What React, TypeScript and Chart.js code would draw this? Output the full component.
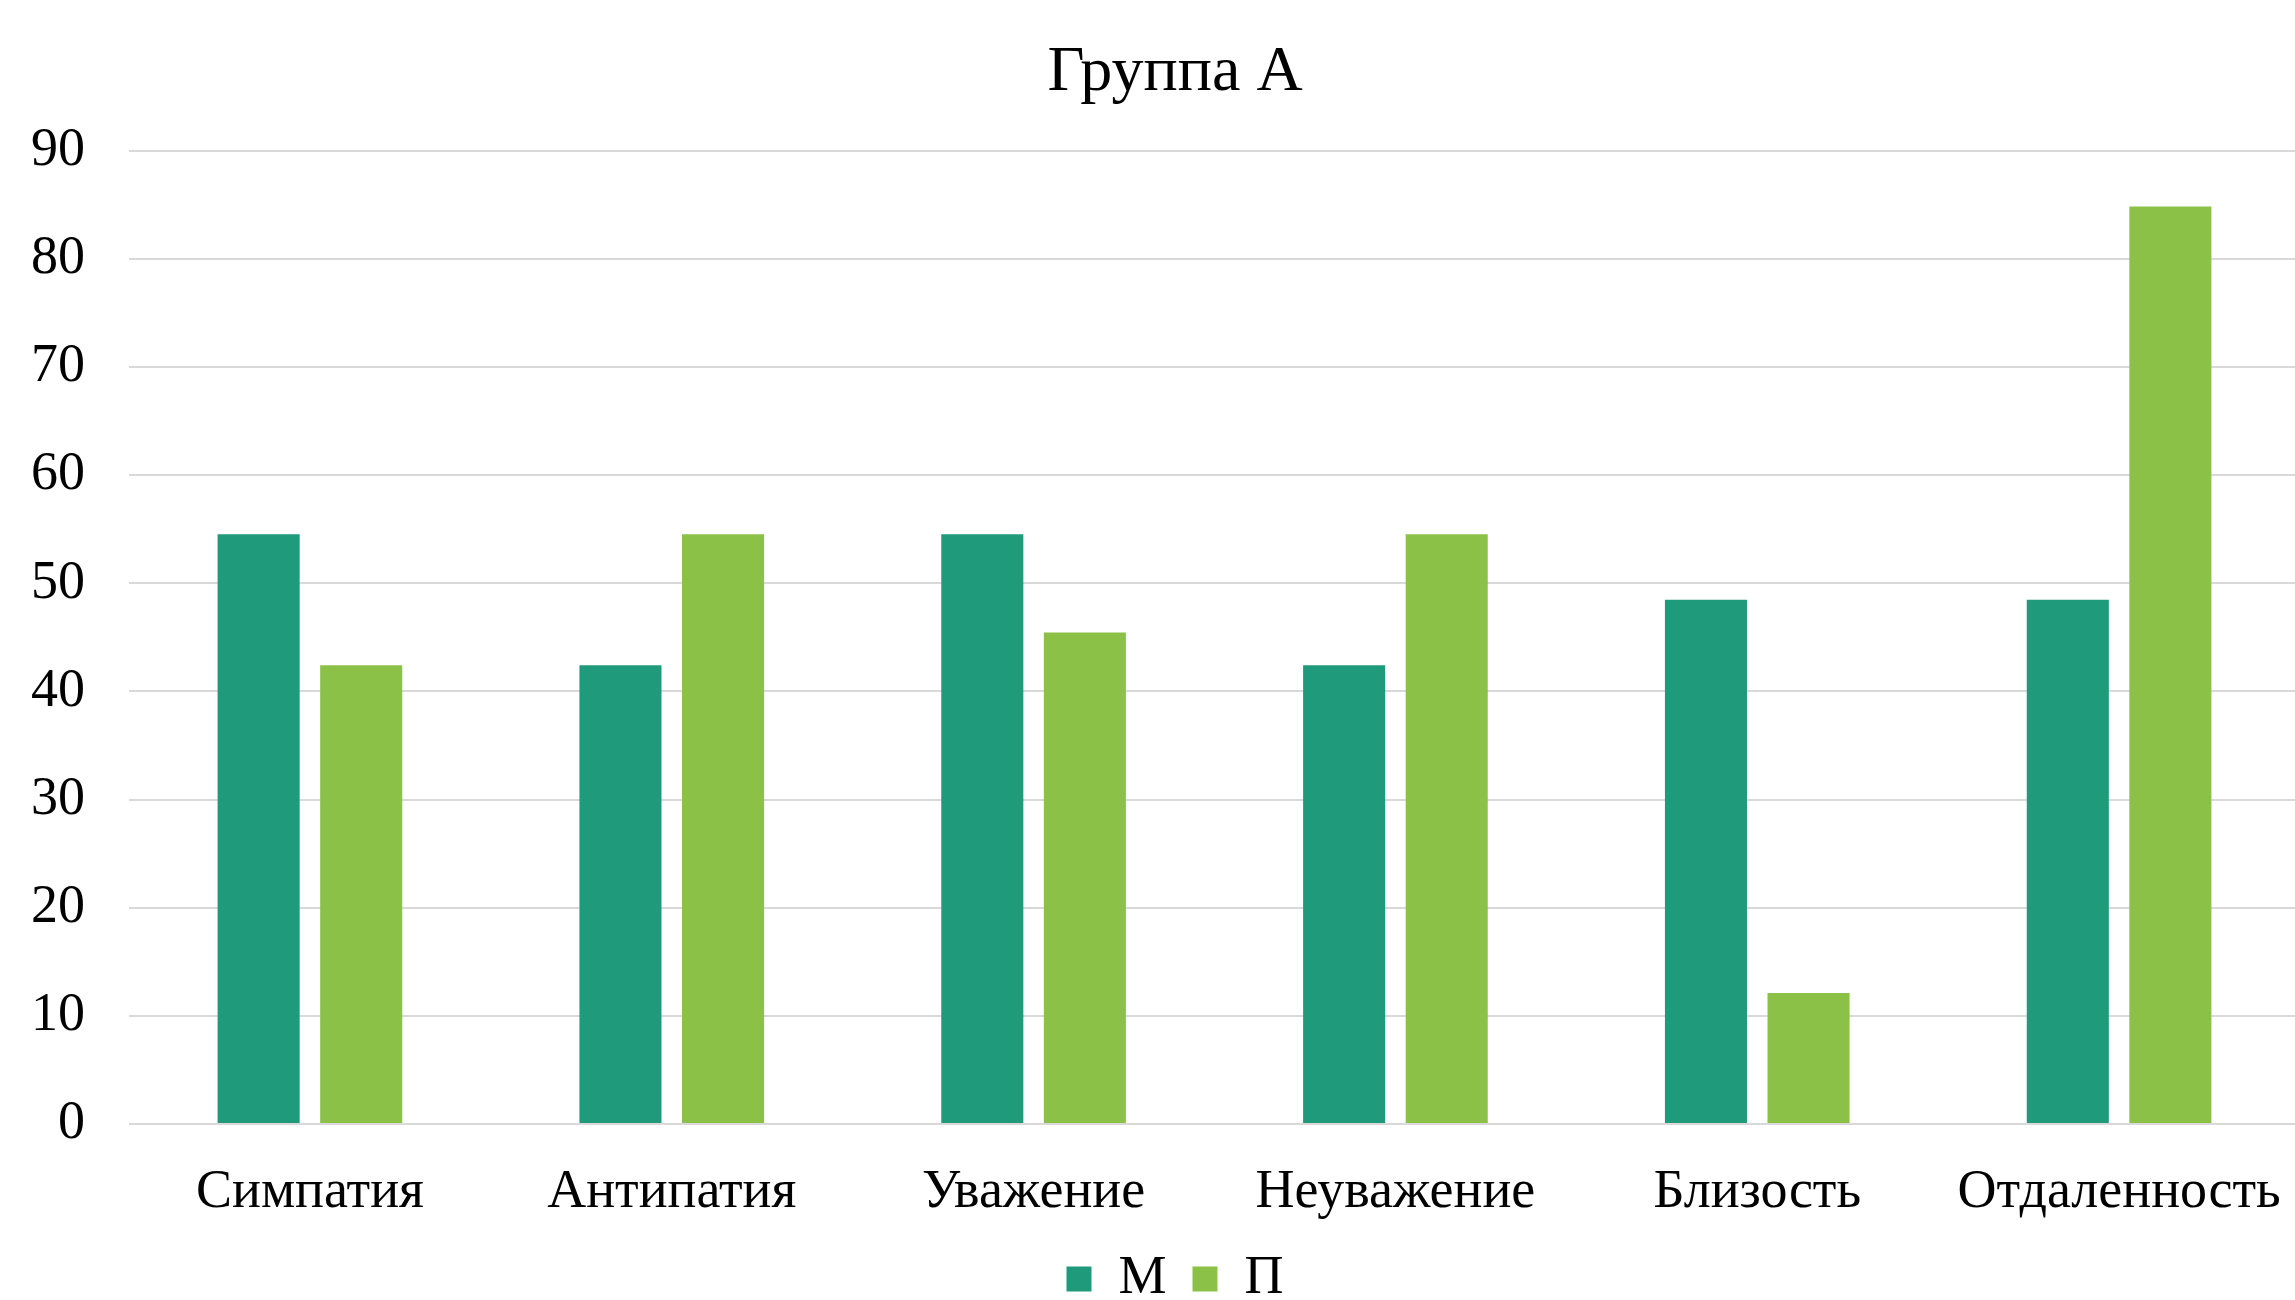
import React, { useEffect, useRef } from "react";
import { Chart, registerables } from "chart.js";

Chart.register(...registerables);

const categories = ["Симпатия", "Антипатия", "Уважение", "Неуважение", "Близость", "Отдаленность"];
const seriesM = [54.55, 42.42, 54.55, 42.42, 48.48, 48.48];
const seriesP = [42.42, 54.55, 45.45, 54.55, 12.12, 84.85];
const seriesNames = ["М", "П"];
const titleText = "Группа А";
const yTicks = [0, 10, 20, 30, 40, 50, 60, 70, 80, 90];

const FONT = "'Liberation Serif', 'Times New Roman', serif";

const shiftBlocks = {
  id: "shiftBlocks",
  afterLayout(chart: any) {
    if (chart.titleBlock) chart.titleBlock.left += 50;
    if (chart.legend) chart.legend.left += 50;
  },
};

export default function App() {
  const ref = useRef<HTMLCanvasElement | null>(null);
  useEffect(() => {
    if (!ref.current) return;
    const chart = new Chart(ref.current, {
      type: "bar",
      data: {
        labels: categories,
        datasets: [
          {
            label: seriesNames[0],
            data: seriesM,
            backgroundColor: "#1F9B7B",
            categoryPercentage: 0.567,
            barPercentage: 0.8,
          },
          {
            label: seriesNames[1],
            data: seriesP,
            backgroundColor: "#8BC147",
            categoryPercentage: 0.567,
            barPercentage: 0.8,
          },
        ],
      },
      plugins: [shiftBlocks],
      options: {
        responsive: false,
        animation: false,
        layout: { padding: { left: 0, right: 50, top: 35, bottom: -16 } },
        plugins: {
          title: {
            display: true,
            text: titleText,
            color: "#000",
            font: { family: FONT, size: 64, weight: "normal" },
            padding: { top: 0, bottom: 39 },
          },
          legend: {
            position: "bottom",
            labels: {
              color: "#000",
              font: { family: FONT, size: 54 },
              boxWidth: 25,
              boxHeight: 25,
              padding: 26,
            },
          },
          tooltip: { enabled: false },
        },
        scales: {
          x: {
            grid: { display: false },
            border: { display: false },
            afterFit: (s: any) => {
              s.height = 102;
            },
            ticks: { color: "#000", font: { family: FONT, size: 54 }, padding: 28 },
          },
          y: {
            min: 0,
            max: 90,
            afterBuildTicks: (s: any) => {
              s.ticks = yTicks.map((v) => ({ value: v }));
            },
            afterFit: (s: any) => {
              s.width = 129;
            },
            grid: { color: "#D9D9D9", lineWidth: 2, drawTicks: false },
            border: { display: false },
            ticks: { color: "#000", font: { family: FONT, size: 54 }, padding: 44 },
          },
        },
      },
    });
    return () => chart.destroy();
  }, []);
  return (
    <div style={{ position: "absolute", left: 0, top: 0, width: 2295, height: 1300, overflow: "hidden", background: "#fff" }}>
      <canvas ref={ref} width={2350} height={1300} />
    </div>
  );
}
